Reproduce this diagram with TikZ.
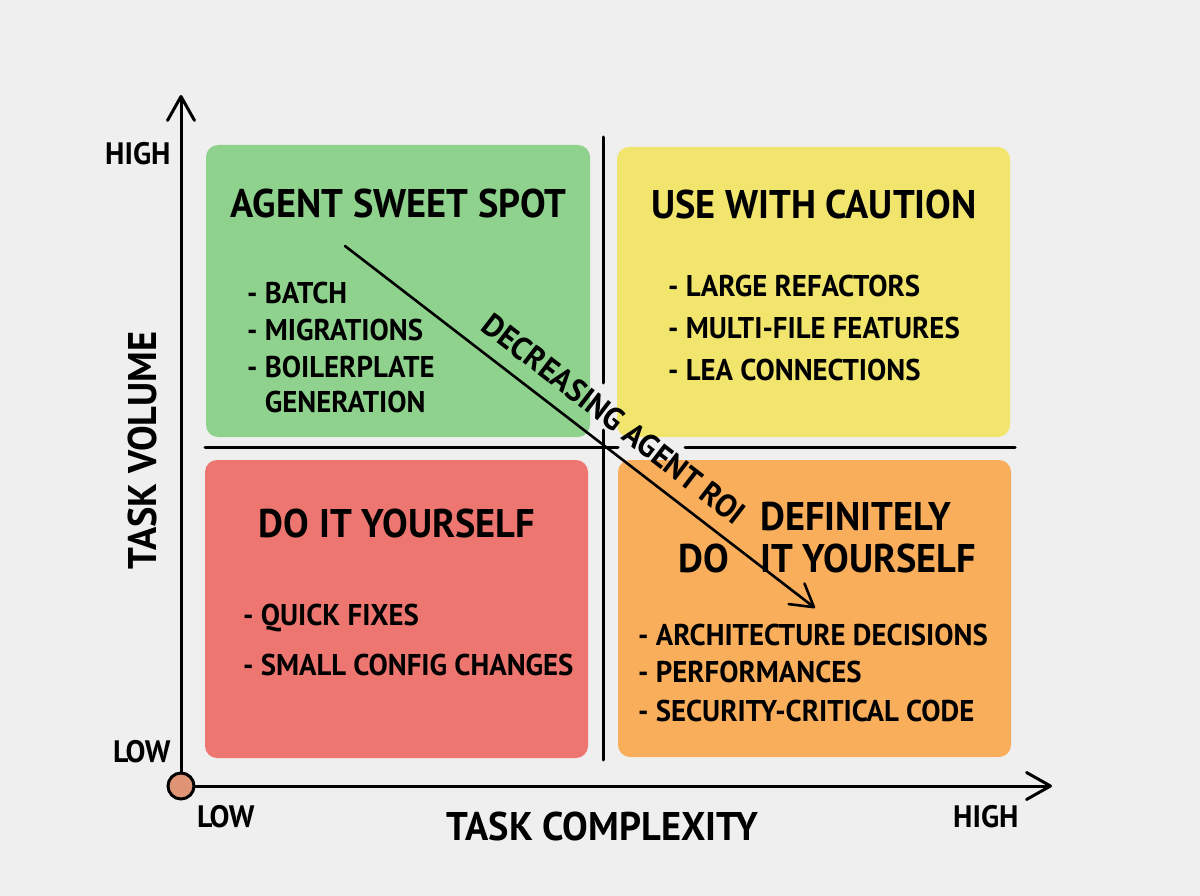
\documentclass[tikz,border=0pt]{standalone}
\usepackage{fontspec}
\setmainfont{PT Sans}[FakeStretch=0.96]
\usetikzlibrary{arrows.meta}
\definecolor{bg}{HTML}{EFEFEF}
\definecolor{qgreen}{HTML}{8FD28E}
\definecolor{qyellow}{HTML}{F1E56E}
\definecolor{qred}{HTML}{EE7670}
\definecolor{qorange}{HTML}{F9AE5C}
\definecolor{qdot}{HTML}{E09476}
\begin{document}
\begin{tikzpicture}[x=1pt,y=-1pt,
  quad/.style={rounded corners=12pt},
  title/.style={font=\fontsize{40}{44}\selectfont\bfseries, anchor=base, inner sep=0pt},
  item/.style={font=\fontsize{30}{34}\selectfont\bfseries, anchor=base west, inner sep=0pt},
  axlabel/.style={font=\fontsize{31}{34}\selectfont\bfseries, anchor=base west, inner sep=0pt},
  axtitle/.style={font=\fontsize{40}{44}\selectfont\bfseries, anchor=base, inner sep=0pt},
  axisline/.style={line width=3pt, line cap=round, line join=round,
     -{Straight Barb[length=24pt,width=27pt,line width=3pt,round]}},
  divider/.style={line width=3pt, line cap=round},
  roi/.style={line width=2.6pt, line cap=round,
     -{Straight Barb[length=22pt,width=26pt,line width=2.6pt,round]}}]
\useasboundingbox (0,0) rectangle (1200,896);
\fill[bg] (0,0) rectangle (1200,896);

% quadrants
\fill[qgreen, quad] (206,145) rectangle (590,437);
\fill[qyellow, quad] (617,147) rectangle (1010,437);
\fill[qred, quad] (205,460) rectangle (588,758);
\fill[qorange, quad] (618,460) rectangle (1011,757);

% dividers
\coordinate (v1) at (603,137);
\coordinate (v2) at (603,383);
\coordinate (v3) at (603,430);
\coordinate (v4) at (603,760);
\coordinate (h1) at (205,447);
\coordinate (h2) at (618,447);
\coordinate (h3) at (685,447);
\coordinate (h4) at (1015,447);
\draw[divider] (v1) -- (v2);
\draw[divider] (v3) -- (v4);
\draw[divider] (h1) -- (h2);
\draw[divider] (h3) -- (h4);

% axes
\node[circle, draw, line width=3pt, fill=qdot, minimum size=26pt, inner sep=0pt] (origin) at (181,786) {};
\coordinate (ytip) at (181,95);
\coordinate (xtip) at (1052,786);
\draw[axisline] (origin.north) -- (ytip);
\draw[axisline] (origin.east) -- (xtip);

% axis labels
\node[axlabel] (yhigh) at (105,165) {HIGH};
\node[axlabel] (ylow) at (113,762) {LOW};
\node[axlabel] (xlow) at (197,827) {LOW};
\node[axlabel] (xhigh) at (953,827) {HIGH};
\node[axtitle] (xtitle) at (602.5,840) {TASK COMPLEXITY};
\node[axtitle, rotate=90] (ytitle) at (156,450.5) {TASK VOLUME};

% titles
\node[title] (t1) at (398.5,218) {AGENT SWEET SPOT};
\node[title] (t2) at (814,219) {USE WITH CAUTION};
\node[title] (t3) at (397,537) {DO IT YOURSELF};
\node[title, anchor=base west] (t4a) at (760,530) {DEFINITELY};
\node[title, anchor=base west] (t4b) at (678,572) {DO};
\node[title, anchor=base west] (t4c) at (760,572) {IT YOURSELF};

% lists
\node[item] (g1) at (247,303) {- BATCH};
\node[item] (g2) at (247,340) {- MIGRATIONS};
\node[item] (g3) at (247,377) {- BOILERPLATE};
\node[item] (g4) at (247,412) {\phantom{- }GENERATION};

\node[item] (y1) at (668,297) {- LARGE REFACTORS};
\node[item] (y2) at (668,338) {- MULTI-FILE FEATURES};
\node[item] (y3) at (668,380) {- LEA CONNECTIONS};

\node[item] (r1) at (243,625) {- QUICK FIXES};
\node[item] (r2) at (243,675) {- SMALL CONFIG CHANGES};

\node[item] (o1) at (638,645) {- ARCHITECTURE DECISIONS};
\node[item] (o2) at (638,682) {- PERFORMANCES};
\node[item] (o3) at (638,721) {- SECURITY-CRITICAL CODE};

% diagonal
\coordinate (dstart) at (345,246);
\coordinate (dend) at (815,608);
\draw[roi] (dstart) -- (dend);
\node[font=\fontsize{32}{36}\selectfont\bfseries, rotate=-37.6, inner sep=0pt] (roitext) at (614,419) {DECREASING AGENT ROI};
\end{tikzpicture}
\end{document}
